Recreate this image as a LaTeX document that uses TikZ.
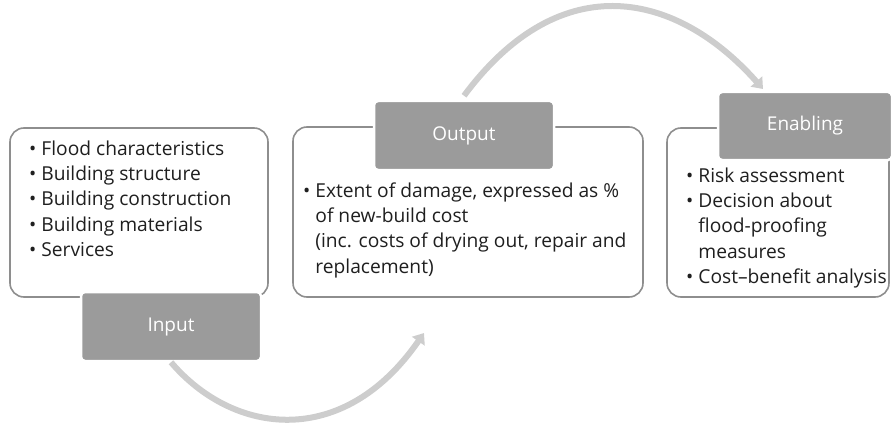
\documentclass[tikz,border=0pt]{standalone}
\usepackage{fontspec}
\setmainfont{Open Sans}
\usetikzlibrary{positioning, arrows.meta}
\definecolor{tabgray}{HTML}{9B9B9B}
\definecolor{framegray}{HTML}{8E8E8E}
\definecolor{arcgray}{HTML}{CDCDCD}
\tikzset{
	panel/.style={draw=framegray, line width=1.6pt, rounded corners=14pt, fill=white}, % the white boxes
	tabbox/.style={fill=tabgray, draw=white, line width=2.5pt, rounded corners=4pt, text=white, font=\fontsize{19}{23}\selectfont}, % grey title tabs
	itemlist/.style={align=left, inner sep=0pt, text=black!88, font=\fontsize{19.2}{25.4}\selectfont}, % bullet text
	flow/.style={draw=arcgray, line width=6pt, -{Triangle[length=10pt, width=15pt]}}, % light grey arcs
}
\newcommand{\hang}{\hphantom{•\ }}

\begin{document}
\begin{tikzpicture}[x=1pt, y=-1pt]
	\useasboundingbox (0,0) rectangle (891,425);
			\node[panel, minimum width=258pt, minimum height=169pt] (inbox) at (139,212.5) {};
			\node[panel, minimum width=350pt, minimum height=170pt] (outbox) at (468,212) {};
			\node[panel, minimum width=222pt, minimum height=169pt] (enbox) at (778,212.5) {};
			\node[tabbox, minimum width=180pt, minimum height=69pt] (intab) at (171,326.5) {Input};
			\node[tabbox, minimum width=180pt, minimum height=69pt] (outtab) at (464,135.5) {Output};
			\node[tabbox, minimum width=174pt, minimum height=68pt] (entab) at (805,126) {Enabling};
			% anchor is the baseline of the last line
			\node[itemlist, anchor=base west] (inlist) at (29,256.6) {• Flood characteristics\\• Building structure\\• Building construction\\• Building materials\\• Services};
			\node[itemlist, anchor=base west] (outlist) at (303,273.2) {• Extent of damage, expressed as \%\\\hang of new-build cost\\\hang (inc. costs of drying out, repair and\\\hang replacement)};
			\node[itemlist, anchor=base west] (enlist) at (686,283.6) {• Risk assessment\\• Decision about\\\hang flood-proofing\\\hang measures\\• Cost--benefit analysis};
			\coordinate (inend) at (424,333);
			\coordinate (enend) at (763,89);
	\draw[flow] (intab.south) .. controls (233,435) and (343,450) .. (inend);
	\draw[flow] ([yshift=4pt]outtab.north) .. controls (562,-36) and (678,-7) .. (enend);
	\end{tikzpicture}
\end{document}
